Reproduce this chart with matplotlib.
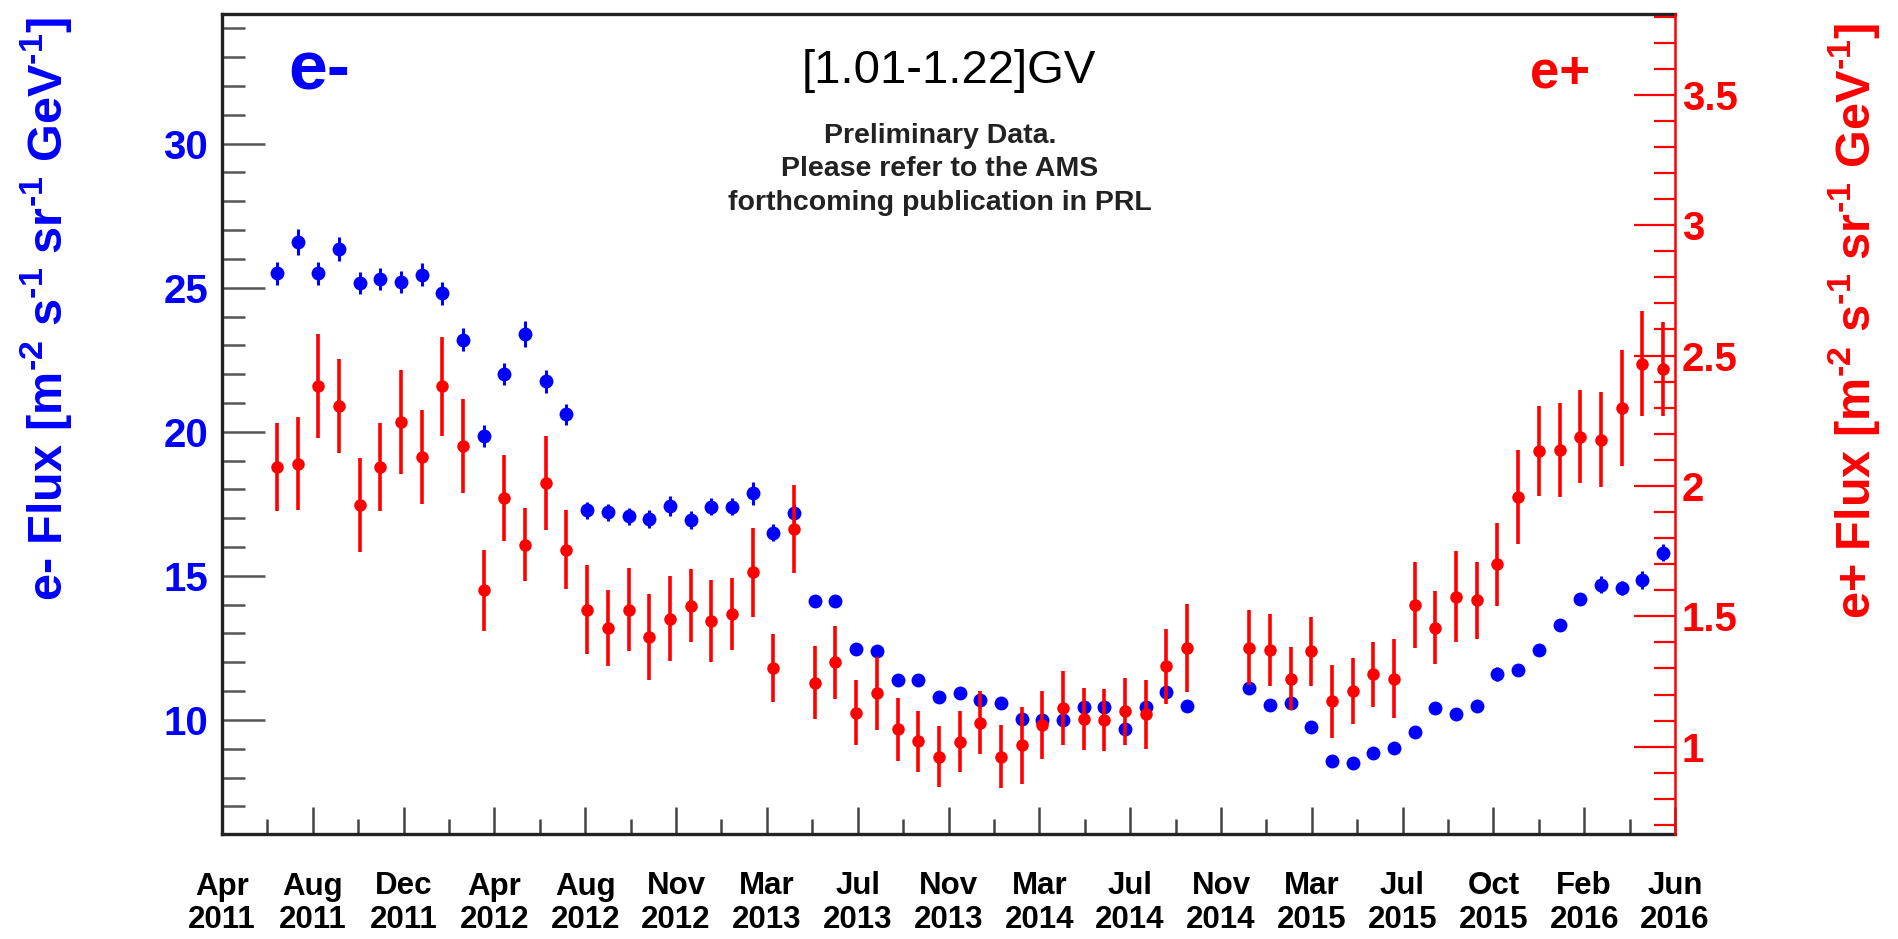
import numpy as np
import matplotlib
matplotlib.use("Agg")
import matplotlib.pyplot as plt
from matplotlib.ticker import MultipleLocator, FixedLocator

plt.rcParams['font.family'] = ['Liberation Sans', 'DejaVu Sans']
plt.rcParams['font.weight'] = 'bold'
plt.rcParams['mathtext.fontset'] = 'custom'
plt.rcParams['mathtext.rm'] = 'Liberation Sans:bold'
plt.rcParams['mathtext.default'] = 'rm'

# Bartels rotations, two rotations missing around Dec 2014
bartels = list(range(2426, 2471)) + list(range(2473, 2494))

# e- flux [m-2 s-1 sr-1 GeV-1]
eminus = [25.5, 26.6, 25.5, 26.35, 25.15, 25.3, 25.2, 25.45, 24.8, 23.2,
          19.85, 22.0, 23.4, 21.75, 20.6, 17.27, 17.2, 17.07, 16.97, 17.43,
          16.94, 17.4, 17.4, 17.87, 16.5, 17.18, 14.11, 14.11, 12.45, 12.4,
          11.39, 11.39, 10.79, 10.93, 10.69, 10.6, 10.02, 10.0, 10.0, 10.46,
          10.46, 9.68, 10.46, 10.98, 10.49,
          11.1, 10.52, 10.6, 9.75, 8.58, 8.52, 8.85, 9.02, 9.59, 10.4,
          10.21, 10.49, 11.6, 11.74, 12.43, 13.3, 14.19, 14.69, 14.57, 14.86,
          15.81]
eminus_err = [0.4, 0.45, 0.4, 0.42, 0.38, 0.38, 0.38, 0.4, 0.4, 0.4,
              0.38, 0.38, 0.45, 0.4, 0.38, 0.3, 0.3, 0.3, 0.3, 0.35,
              0.3, 0.3, 0.3, 0.4, 0.3, 0.3, 0.2, 0.2, 0.2, 0.2,
              0.2, 0.2, 0.2, 0.2, 0.2, 0.2, 0.2, 0.2, 0.2, 0.2,
              0.2, 0.2, 0.2, 0.2, 0.2,
              0.2, 0.2, 0.2, 0.2, 0.15, 0.15, 0.15, 0.15, 0.15, 0.15,
              0.15, 0.15, 0.25, 0.2, 0.2, 0.2, 0.2, 0.3, 0.25, 0.3,
              0.3]

# e+ flux [m-2 s-1 sr-1 GeV-1]
eplus = [2.073, 2.086, 2.382, 2.308, 1.928, 2.073, 2.244, 2.111, 2.382, 2.152,
         1.600, 1.954, 1.775, 2.012, 1.756, 1.526, 1.456, 1.526, 1.422, 1.490,
         1.541, 1.481, 1.507, 1.669, 1.303, 1.835, 1.245, 1.324, 1.130, 1.204,
         1.066, 1.021, 0.962, 1.018, 1.092, 0.962, 1.005, 1.082, 1.149, 1.107,
         1.102, 1.136, 1.124, 1.309, 1.379,
         1.379, 1.370, 1.261, 1.366, 1.175, 1.213, 1.277, 1.261, 1.545, 1.456,
         1.575, 1.562, 1.699, 1.958, 2.133, 2.139, 2.188, 2.178, 2.299, 2.469,
         2.449]
eplus_err = [0.17, 0.18, 0.20, 0.18, 0.18, 0.17, 0.20, 0.18, 0.19, 0.18,
             0.155, 0.165, 0.14, 0.18, 0.15, 0.17, 0.145, 0.16, 0.165, 0.163,
             0.14, 0.157, 0.138, 0.17, 0.13, 0.17, 0.14, 0.14, 0.125, 0.14,
             0.12, 0.117, 0.118, 0.117, 0.12, 0.121, 0.147, 0.131, 0.141, 0.119,
             0.118, 0.129, 0.133, 0.144, 0.168,
             0.144, 0.139, 0.122, 0.133, 0.14, 0.127, 0.123, 0.15, 0.165, 0.14,
             0.174, 0.148, 0.16, 0.18, 0.173, 0.18, 0.178, 0.181, 0.222, 0.2,
             0.181]

date_labels = ['Apr\n2011', 'Aug\n2011', 'Dec\n2011', 'Apr\n2012', 'Aug\n2012',
               'Nov\n2012', 'Mar\n2013', 'Jul\n2013', 'Nov\n2013', 'Mar\n2014',
               'Jul\n2014', 'Nov\n2014', 'Mar\n2015', 'Jul\n2015', 'Oct\n2015',
               'Feb\n2016', 'Jun\n2016']

W, H = 1899, 939
fig = plt.figure(figsize=(W / 100, H / 100), dpi=100)
x0, x1, ytop, ybot = 222, 1675, 14, 834
ax = fig.add_axes([x0 / W, 1 - ybot / H, (x1 - x0) / W, (ybot - ytop) / H])
ax2 = ax.twinx()

xlo, xhi = 2423.35, 2493.58
ax.set_xlim(xlo, xhi)
ax.set_ylim(6.04, 34.5)
ax2.set_ylim(0.665, 3.81)

ax.errorbar(bartels, eminus, yerr=eminus_err, fmt='o', color='blue',
            ms=10, elinewidth=2.2, capsize=0, mew=0)
ax2.errorbar(bartels, eplus, yerr=eplus_err, fmt='o', color='red',
             ms=9, elinewidth=2.6, capsize=0, mew=0)

# x axis: equally spaced date ticks
major = np.linspace(xlo, xhi, len(date_labels))
ax.xaxis.set_major_locator(FixedLocator(major))
ax.xaxis.set_minor_locator(FixedLocator((major[:-1] + major[1:]) / 2))
ax.set_xticklabels(date_labels, fontsize=22.5, fontweight='bold', linespacing=1.15)
ax.tick_params(axis='x', which='major', direction='in', length=19.5, width=1.8,
               color='#444444', pad=27, top=False)
ax.tick_params(axis='x', which='minor', direction='in', length=11, width=1.8,
               color='#444444', top=False)

ax.yaxis.set_major_locator(MultipleLocator(5))
ax.yaxis.set_minor_locator(MultipleLocator(1))
ax.tick_params(axis='y', which='major', direction='in', length=31, width=1.8,
               color='#555555', labelcolor='blue', labelsize=29, pad=10,
               right=False)
ax.tick_params(axis='y', which='minor', direction='in', length=16.5, width=1.8,
               color='#555555', right=False)

ax2.yaxis.set_major_locator(MultipleLocator(0.5))
ax2.yaxis.set_minor_locator(MultipleLocator(0.1))
ax2.yaxis.set_major_formatter(plt.FuncFormatter(lambda v, p: '%g' % v))
ax2.tick_params(axis='y', which='major', direction='in', length=29.5, width=1.6,
                color='red', labelcolor='red', labelsize=29, pad=5)
ax2.tick_params(axis='y', which='minor', direction='in', length=15, width=1.6,
                color='red')

for s in ['left', 'bottom', 'top']:
    ax.spines[s].set_linewidth(2.4)
    ax.spines[s].set_color('#222222')
ax.spines['right'].set_visible(False)
for s in ['left', 'bottom', 'top']:
    ax2.spines[s].set_visible(False)
ax2.spines['right'].set_color('red')
ax2.spines['right'].set_linewidth(1.8)

# texts
fig.text(319 / W, 1 - 90 / H, 'e-', color='blue', fontsize=50,
         fontweight='bold', ha='center', va='baseline')
fig.text(1560 / W, 1 - 88 / H, 'e+', color='red', fontsize=38,
         fontweight='bold', ha='center', va='baseline')
fig.text(949 / W, 1 - 83 / H, '[1.01-1.22]GV', color='black', fontsize=34,
         fontweight='normal', ha='center', va='baseline')
note = ['Preliminary Data.', 'Please refer to the AMS',
        'forthcoming publication in PRL']
for line, yb in zip(note, [143, 176.5, 210]):
    fig.text(940 / W, 1 - yb / H, line, color='#222222', fontsize=20.5,
             fontweight='bold', ha='center', va='baseline')

unit = r' Flux [m$^{\text{-2}}$ s$^{\text{-1}}$ sr$^{\text{-1}}$ GeV$^{\text{-1}}$]'
fig.text(46 / W, 1 - 309 / H, 'e-' + unit, color='blue',
         fontsize=35, fontweight='bold', rotation=90, ha='center', va='center')
fig.text(1854 / W, 1 - 321 / H, 'e+' + unit, color='red',
         fontsize=35, fontweight='bold', rotation=90, ha='center', va='center')

fig.savefig('out.png', dpi=100)
